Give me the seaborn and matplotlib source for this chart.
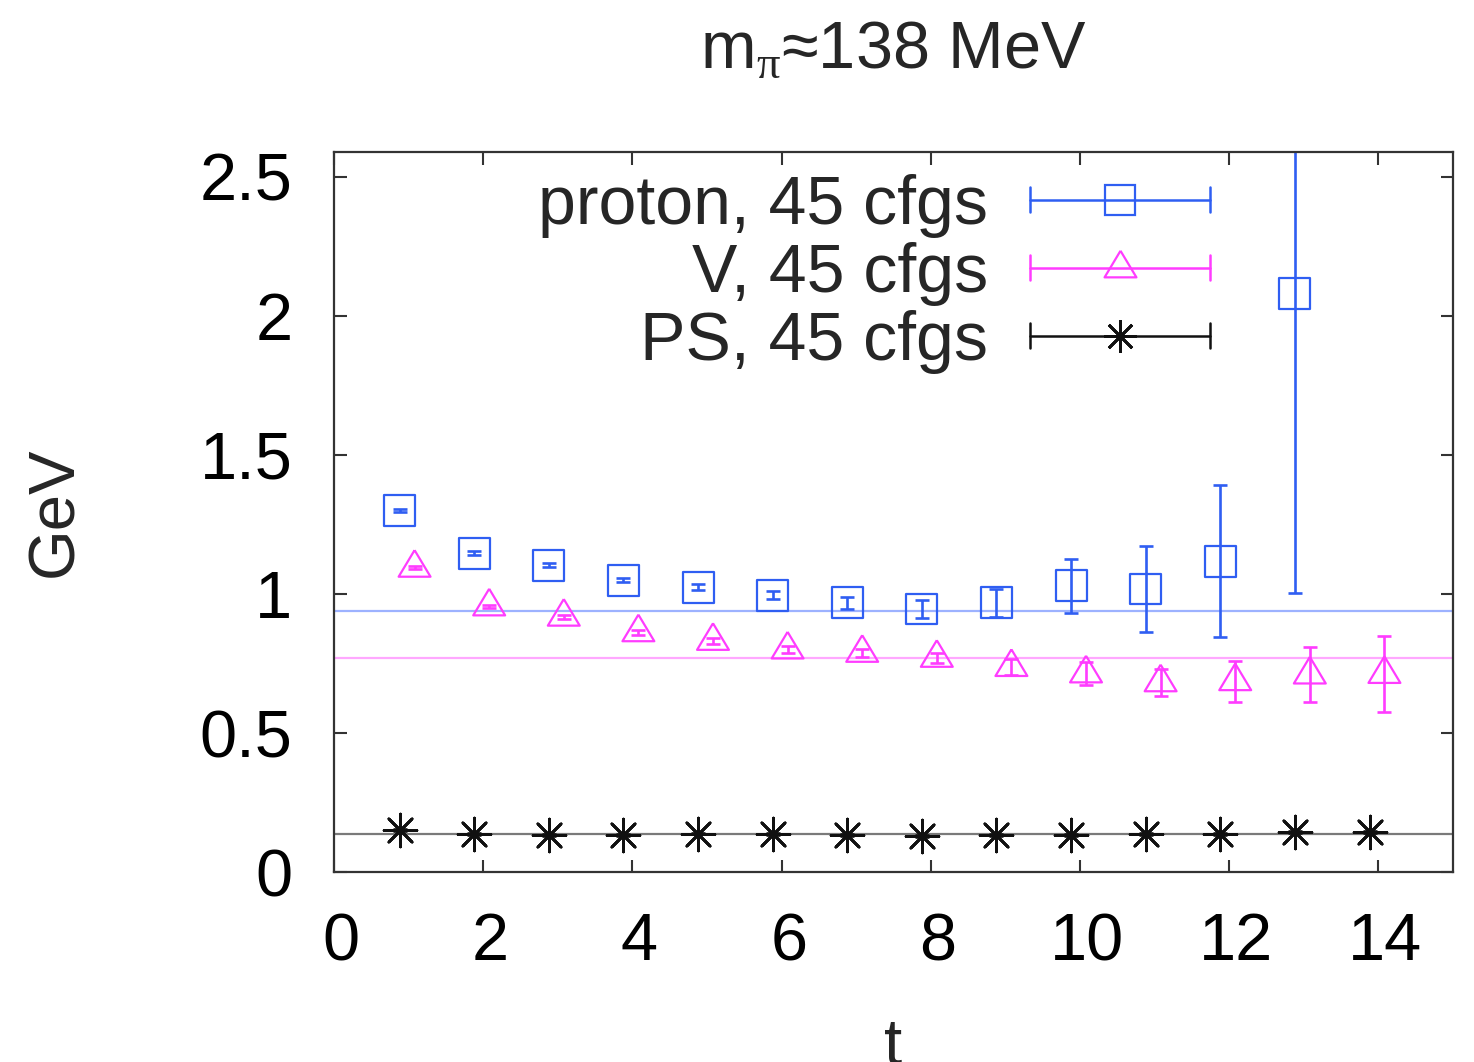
import numpy as np
import pandas as pd
import matplotlib
matplotlib.use("Agg")
import matplotlib.pyplot as plt
import matplotlib.transforms as mtransforms
import seaborn as sns
from matplotlib.lines import Line2D
from matplotlib.legend_handler import HandlerBase

# ---------------- data ----------------
t_proton = [1, 2, 3, 4, 5, 6, 7, 8, 9, 10, 11, 12, 13]
proton_mass = [1.30, 1.147, 1.104, 1.05, 1.025, 0.996, 0.968, 0.946, 0.968, 1.029, 1.018, 1.118, 2.08]
proton_err = [0.005, 0.006, 0.006, 0.007, 0.01, 0.015, 0.023, 0.032, 0.05, 0.097, 0.155, 0.273, 1.076]

t_v = [1, 2, 3, 4, 5, 6, 7, 8, 9, 10, 11, 12, 13, 14]
v_mass = [1.094, 0.955, 0.918, 0.862, 0.831, 0.80, 0.788, 0.77, 0.737, 0.714, 0.682, 0.686, 0.71, 0.712]
v_err = [0.005, 0.006, 0.007, 0.008, 0.01, 0.012, 0.015, 0.018, 0.03, 0.04, 0.05, 0.074, 0.1, 0.137]

t_ps = [1, 2, 3, 4, 5, 6, 7, 8, 9, 10, 11, 12, 13, 14]
ps_mass = [0.151, 0.137, 0.133, 0.133, 0.138, 0.137, 0.133, 0.129, 0.133, 0.133, 0.137, 0.137, 0.144, 0.144]
ps_err = [0.003] * 14

ref_mass = [0.938, 0.770, 0.138]
labels = ["proton, 45 cfgs", "V, 45 cfgs", "PS, 45 cfgs"]
x_ticks = [0, 2, 4, 6, 8, 10, 12, 14]
y_ticks = [0, 0.5, 1, 1.5, 2, 2.5]
y_tick_labels = ["0", "0.5", "1", "1.5", "2", "2.5"]

# ---------------- style ----------------
sns.set_theme(style="ticks")
plt.rcParams["font.family"] = ["Liberation Sans", "DejaVu Sans"]
plt.rcParams["mathtext.fontset"] = "custom"
plt.rcParams["mathtext.rm"] = "Liberation Serif"
plt.rcParams["mathtext.it"] = "Liberation Sans:italic"

BLUE = "#2f5ef2"
MAG = "#ff3cff"
BLK = "#111111"
LINE_COLS = ["#9db2ff", "#ffa8ff", "#7a7a7a"]

TICK_FS = 48
LEG_FS = 49
TITLE_FS = 48
LAB_FS = 47

tri = [(0, 0.6), (-0.54, -0.3), (0.54, -0.3), (0, 0.6)]
asterisk = (8, 2, 0)

series = [
    dict(t=t_proton, m=proton_mass, e=proton_err, shift=-0.12, color=BLUE, marker="s", s=497, fc="none", lw=1.6),
    dict(t=t_v, m=v_mass, e=v_err, shift=0.08, color=MAG, marker=tri, s=650, fc="none", lw=1.6),
    dict(t=t_ps, m=ps_mass, e=ps_err, shift=-0.12, color=BLK, marker=asterisk, s=560, fc=BLK, lw=2.0),
]

fig = plt.figure(figsize=(14.74, 10.62), dpi=100)
ax = fig.add_axes([0.2266, 0.1789, 0.7592, 0.678])

for c, r in zip(LINE_COLS, ref_mass):
    ax.axhline(r, color=c, lw=1.6, zorder=1)

for sd, lab in zip(series, labels):
    df = pd.DataFrame({"t": np.array(sd["t"]) + sd["shift"], "m": sd["m"], "e": sd["e"]})
    ax.errorbar(df["t"], df["m"], yerr=df["e"], fmt="none", ecolor=sd["color"],
                elinewidth=1.9, capsize=5, capthick=1.9, zorder=2)
    kws = dict(facecolor=sd["fc"])
    if sd["fc"] == "none":
        kws["edgecolor"] = sd["color"]
    sns.scatterplot(data=df, x="t", y="m", marker=sd["marker"], s=sd["s"],
                    color=sd["color"], linewidth=sd["lw"], ax=ax, zorder=3, legend=False, **kws)

ax.set_xlim(0, 15)
ax.set_ylim(0, 2.59)
ax.set_xticks(x_ticks)
ax.set_xticklabels([str(v) for v in x_ticks])
ax.set_yticks(y_ticks)
ax.set_yticklabels(y_tick_labels)
ax.tick_params(axis="both", direction="in", length=9, width=1.5, top=True, right=True,
               labelsize=TICK_FS, colors="#333333", labelcolor="black")
ax.tick_params(axis="x", pad=29)
ax.tick_params(axis="y", pad=30)
offset = mtransforms.ScaledTranslation(7 / 100, 0, fig.dpi_scale_trans)
for lbl in ax.get_xticklabels():
    lbl.set_transform(lbl.get_transform() + offset)
for sp in ax.spines.values():
    sp.set_linewidth(1.6)
    sp.set_color("#333333")

ax.set_xlabel("t", fontsize=LAB_FS)
ax.set_ylabel("GeV", fontsize=LAB_FS)
ax.xaxis.set_label_coords(0.5, -0.2)
ax.yaxis.set_label_coords(-0.222, 0.5)
ax.set_title(r"m$_\mathrm{π}$≈138 MeV", fontsize=TITLE_FS, pad=61)


class CapHandler(HandlerBase):
    def create_artists(self, legend, orig, xdescent, ydescent, width, height, fontsize, trans):
        y = height / 2 - ydescent
        x0, x1 = -xdescent, width - xdescent
        c = orig.get_color()
        cap = 9
        fc = orig.get_markerfacecolor()
        arts = [
            Line2D([x0, x1], [y, y], color=c, lw=1.8, transform=trans),
            Line2D([x0, x0], [y - cap, y + cap], color=c, lw=1.8, transform=trans),
            Line2D([x1, x1], [y - cap, y + cap], color=c, lw=1.8, transform=trans),
            Line2D([(x0 + x1) / 2], [y], ls="none", marker=orig.get_marker(),
                   ms=orig.get_markersize(), mfc=fc, mec=c, mew=orig.get_markeredgewidth(),
                   transform=trans),
        ]
        return arts


handles = [Line2D([], [], color=sd["color"], marker=sd["marker"], ms=np.sqrt(sd["s"]), ls="none",
                  mfc=sd["fc"], mew=sd["lw"])
           for sd in series]
fs_px = LEG_FS * 100 / 72
leg = ax.legend(handles, labels, handler_map={Line2D: CapHandler()}, loc="upper right",
                bbox_to_anchor=(0.783, 0.97), borderaxespad=0, borderpad=0,
                frameon=False, fontsize=LEG_FS, markerfirst=False,
                handlelength=180 / fs_px, handletextpad=42 / fs_px, labelspacing=0.06)

fig.savefig("out.png", dpi=100)
